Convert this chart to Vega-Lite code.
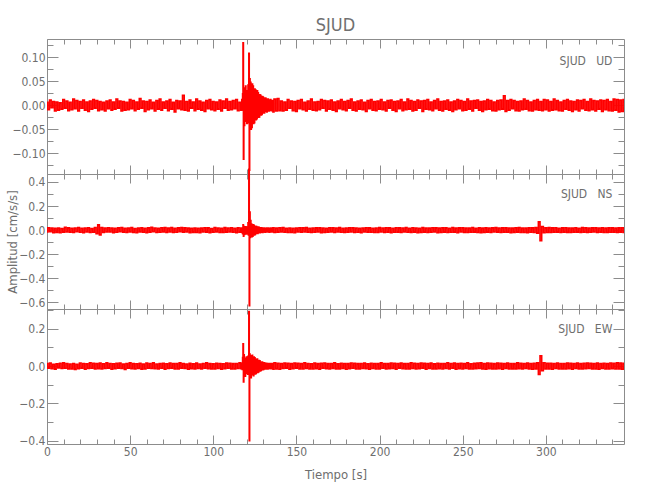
{
"$schema":"https://vega.github.io/schema/vega-lite/v6.json",
"padding":{"left":5,"top":17,"right":10,"bottom":10},
"background":"white",
"title":{"text":"SJUD","fontSize":18,"font":"Liberation Sans Narrow, DejaVu Sans Condensed, sans-serif","color":"#707070","fontWeight":"normal","anchor":"middle","frame":"group","offset":3},
"config":{"view":{"stroke":"#8c8c8c","strokeWidth":1},"axis":{"domain":false,"grid":false,"tickColor":"#8c8c8c","tickWidth":1,"labelColor":"#6e6e6e","labelFont":"Liberation Sans Narrow, DejaVu Sans Condensed, sans-serif","labelFontSize":12,"titleFont":"Liberation Sans Narrow, DejaVu Sans Condensed, sans-serif","titleFontSize":13,"titleColor":"#6e6e6e","titleFontWeight":"normal","labelFlush":false,"labelOverlap":false,"labelBound":false},"concat":{"spacing":0}},
"data":{"values":[
{"t":0,"u":0.006,"n":-0.016,"e":0.013},{"t":1,"u":-0.009,"n":0.02,"e":-0.011},{"t":2,"u":0.011,"n":-0.014,"e":0.016},{"t":3,"u":-0.005,"n":0.018,"e":-0.014},{"t":4,"u":0.008,"n":-0.022,"e":0.009},{"t":5,"u":-0.012,"n":0.015,"e":-0.017},{"t":6,"u":0.007,"n":-0.019,"e":0.012},{"t":7,"u":-0.01,"n":0.017,"e":-0.01},{"t":8,"u":0.005,"n":-0.021,"e":0.015},{"t":9,"u":-0.008,"n":0.014,"e":-0.013},
{"t":10,"u":0.012,"n":-0.018,"e":0.018},{"t":11,"u":-0.006,"n":0.023,"e":-0.012},{"t":12,"u":0.009,"n":-0.015,"e":0.014},{"t":13,"u":-0.011,"n":0.019,"e":-0.016},{"t":14,"u":0.006,"n":-0.017,"e":0.011},{"t":15,"u":-0.009,"n":0.016,"e":-0.015},{"t":16,"u":0.013,"n":-0.02,"e":0.013},{"t":17,"u":-0.007,"n":0.018,"e":-0.018},{"t":18,"u":0.01,"n":-0.014,"e":0.01},{"t":19,"u":-0.012,"n":0.021,"e":-0.014},
{"t":20,"u":0.008,"n":-0.018,"e":0.016},{"t":21,"u":-0.006,"n":0.015,"e":-0.011},{"t":22,"u":0.011,"n":-0.022,"e":0.014},{"t":23,"u":-0.01,"n":0.017,"e":-0.017},{"t":24,"u":0.007,"n":-0.016,"e":0.012},{"t":25,"u":-0.013,"n":0.02,"e":-0.013},{"t":26,"u":0.009,"n":-0.019,"e":0.017},{"t":27,"u":-0.008,"n":0.014,"e":-0.012},{"t":28,"u":0.012,"n":-0.018,"e":0.015},{"t":29,"u":-0.006,"n":0.022,"e":-0.016},
{"t":30,"u":0.01,"n":-0.03,"e":0.013},{"t":31,"u":-0.011,"n":0.045,"e":-0.014},{"t":32,"u":0.008,"n":-0.04,"e":0.016},{"t":33,"u":-0.009,"n":0.022,"e":-0.015},{"t":34,"u":0.006,"n":-0.019,"e":0.012},{"t":35,"u":-0.012,"n":0.018,"e":-0.013},{"t":36,"u":0.009,"n":-0.016,"e":0.018},{"t":37,"u":-0.007,"n":0.02,"e":-0.011},{"t":38,"u":0.011,"n":-0.015,"e":0.014},{"t":39,"u":-0.01,"n":0.017,"e":-0.017},
{"t":40,"u":0.007,"n":-0.021,"e":0.012},{"t":41,"u":-0.008,"n":0.016,"e":-0.014},{"t":42,"u":0.013,"n":-0.018,"e":0.015},{"t":43,"u":-0.006,"n":0.019,"e":-0.012},{"t":44,"u":0.009,"n":-0.014,"e":0.016},{"t":45,"u":-0.012,"n":0.022,"e":-0.013},{"t":46,"u":0.008,"n":-0.017,"e":0.011},{"t":47,"u":-0.01,"n":0.015,"e":-0.018},{"t":48,"u":0.006,"n":-0.02,"e":0.014},{"t":49,"u":-0.009,"n":0.018,"e":-0.012},
{"t":50,"u":0.012,"n":-0.016,"e":0.017},{"t":51,"u":-0.007,"n":0.021,"e":-0.014},{"t":52,"u":0.01,"n":-0.019,"e":0.013},{"t":53,"u":-0.011,"n":0.014,"e":-0.016},{"t":54,"u":0.007,"n":-0.022,"e":0.012},{"t":55,"u":-0.008,"n":0.017,"e":-0.013},{"t":56,"u":0.014,"n":-0.015,"e":0.015},{"t":57,"u":-0.006,"n":0.02,"e":-0.017},{"t":58,"u":0.009,"n":-0.018,"e":0.011},{"t":59,"u":-0.013,"n":0.016,"e":-0.015},
{"t":60,"u":0.008,"n":-0.021,"e":0.016},{"t":61,"u":-0.009,"n":0.019,"e":-0.012},{"t":62,"u":0.011,"n":-0.017,"e":0.014},{"t":63,"u":-0.007,"n":0.023,"e":-0.013},{"t":64,"u":0.006,"n":-0.014,"e":0.017},{"t":65,"u":-0.012,"n":0.018,"e":-0.014},{"t":66,"u":0.01,"n":-0.02,"e":0.011},{"t":67,"u":-0.008,"n":0.015,"e":-0.016},{"t":68,"u":0.013,"n":-0.018,"e":0.013},{"t":69,"u":-0.01,"n":0.02,"e":-0.012},
{"t":70,"u":0.007,"n":-0.016,"e":0.015},{"t":71,"u":-0.006,"n":0.022,"e":-0.017},{"t":72,"u":0.009,"n":-0.019,"e":0.012},{"t":73,"u":-0.011,"n":0.017,"e":-0.013},{"t":74,"u":0.012,"n":-0.015,"e":0.016},{"t":75,"u":-0.008,"n":0.021,"e":-0.011},{"t":76,"u":0.006,"n":-0.02,"e":0.014},{"t":77,"u":-0.014,"n":0.016,"e":-0.015},{"t":78,"u":0.01,"n":-0.018,"e":0.013},{"t":79,"u":-0.007,"n":0.019,"e":-0.016},
{"t":80,"u":0.009,"n":-0.014,"e":0.017},{"t":81,"u":-0.009,"n":0.022,"e":-0.012},{"t":82,"u":0.021,"n":-0.017,"e":0.014},{"t":83,"u":-0.01,"n":0.02,"e":-0.013},{"t":84,"u":0.008,"n":-0.016,"e":0.011},{"t":85,"u":-0.012,"n":0.018,"e":-0.017},{"t":86,"u":0.011,"n":-0.021,"e":0.015},{"t":87,"u":-0.006,"n":0.015,"e":-0.014},{"t":88,"u":0.007,"n":-0.019,"e":0.012},{"t":89,"u":-0.011,"n":0.017,"e":-0.015},
{"t":90,"u":0.013,"n":-0.02,"e":0.016},{"t":91,"u":-0.008,"n":0.016,"e":-0.013},{"t":92,"u":0.009,"n":-0.022,"e":0.011},{"t":93,"u":-0.01,"n":0.018,"e":-0.016},{"t":94,"u":0.006,"n":-0.015,"e":0.014},{"t":95,"u":-0.013,"n":0.02,"e":-0.012},{"t":96,"u":0.01,"n":-0.017,"e":0.017},{"t":97,"u":-0.007,"n":0.019,"e":-0.014},{"t":98,"u":0.012,"n":-0.021,"e":0.013},{"t":99,"u":-0.009,"n":0.014,"e":-0.015},
{"t":100,"u":0.008,"n":-0.018,"e":0.012},{"t":101,"u":-0.011,"n":0.022,"e":-0.016},{"t":102,"u":0.007,"n":-0.016,"e":0.015},{"t":103,"u":-0.008,"n":0.017,"e":-0.013},{"t":104,"u":0.011,"n":-0.02,"e":0.014},{"t":105,"u":-0.012,"n":0.015,"e":-0.017},{"t":106,"u":0.009,"n":-0.019,"e":0.012},{"t":107,"u":-0.006,"n":0.021,"e":-0.014},{"t":108,"u":0.013,"n":-0.017,"e":0.016},{"t":109,"u":-0.01,"n":0.018,"e":-0.012},
{"t":110,"u":0.008,"n":-0.015,"e":0.015},{"t":111,"u":-0.009,"n":0.02,"e":-0.015},{"t":112,"u":0.01,"n":-0.018,"e":0.013},{"t":113,"u":-0.007,"n":0.016,"e":-0.016},{"t":114,"u":0.012,"n":-0.021,"e":0.014},{"t":115,"u":-0.011,"n":0.019,"e":-0.013},{"t":116,"u":0.006,"n":-0.017,"e":0.017},
{"t":117,"u":-0.01,"n":0.018,"e":-0.014},{"t":117.25,"u":0.012,"n":-0.019,"e":0.013},{"t":117.5,"u":-0.009,"n":0.017,"e":-0.018},{"t":117.75,"u":0.024,"n":-0.03,"e":0.045},
{"t":118,"u":0.13,"n":0.045,"e":0.12},{"t":118.25,"u":-0.112,"n":-0.05,"e":-0.085},{"t":118.5,"u":0.028,"n":0.03,"e":0.06},{"t":118.75,"u":-0.042,"n":-0.035,"e":-0.048},
{"t":119,"u":0.036,"n":0.025,"e":0.03},{"t":119.25,"u":-0.025,"n":-0.032,"e":-0.055},{"t":119.5,"u":0.04,"n":0.028,"e":0.042},{"t":119.75,"u":-0.033,"n":-0.022,"e":-0.03},
{"t":120,"u":0.022,"n":0.026,"e":0.048},{"t":120.25,"u":-0.038,"n":-0.032,"e":-0.038},{"t":120.5,"u":0.03,"n":0.02,"e":0.026},{"t":120.75,"u":-0.026,"n":-0.028,"e":-0.044},
{"t":121,"u":0.042,"n":0.06,"e":0.052},{"t":121.25,"u":-0.036,"n":-0.04,"e":-0.04},{"t":121.5,"u":0.108,"n":0.505,"e":0.292},{"t":121.75,"u":-0.135,"n":-0.628,"e":-0.4},
{"t":122,"u":0.055,"n":0.15,"e":0.065},{"t":122.25,"u":-0.042,"n":-0.06,"e":-0.058},{"t":122.5,"u":0.048,"n":0.08,"e":0.044},{"t":122.75,"u":-0.05,"n":-0.045,"e":-0.062},
{"t":123,"u":0.038,"n":0.05,"e":0.055},{"t":123.25,"u":-0.046,"n":-0.055,"e":-0.04},{"t":123.5,"u":0.044,"n":0.035,"e":0.058},{"t":123.75,"u":-0.03,"n":-0.05,"e":-0.046},
{"t":124,"u":0.04,"n":0.045,"e":0.035},{"t":124.25,"u":-0.038,"n":-0.03,"e":-0.052},{"t":124.5,"u":0.026,"n":0.04,"e":0.048},{"t":124.75,"u":-0.036,"n":-0.04,"e":-0.03},
{"t":125,"u":0.034,"n":0.028,"e":0.044},{"t":125.25,"u":-0.024,"n":-0.036,"e":-0.042},{"t":125.5,"u":0.032,"n":0.032,"e":0.028},{"t":125.75,"u":-0.03,"n":-0.025,"e":-0.04},
{"t":126,"u":0.02,"n":0.03,"e":0.036},{"t":126.25,"u":-0.028,"n":-0.028,"e":-0.026},{"t":126.5,"u":0.03,"n":0.022,"e":0.038},{"t":126.75,"u":-0.022,"n":-0.027,"e":-0.034},
{"t":127,"u":0.026,"n":0.025,"e":0.022},{"t":127.25,"u":-0.025,"n":-0.02,"e":-0.032},{"t":127.5,"u":0.018,"n":0.024,"e":0.03},{"t":127.75,"u":-0.024,"n":-0.022,"e":-0.02},
{"t":128,"u":0.022,"n":0.019,"e":0.028},{"t":128.25,"u":-0.016,"n":-0.022,"e":-0.026},{"t":128.5,"u":0.021,"n":0.02,"e":0.018},{"t":128.75,"u":-0.02,"n":-0.017,"e":-0.024},
{"t":129,"u":0.015,"n":0.02,"e":0.022},{"t":129.25,"u":-0.019,"n":-0.018,"e":-0.017},{"t":129.5,"u":0.018,"n":0.016,"e":0.021},{"t":129.75,"u":-0.014,"n":-0.019,"e":-0.019},
{"t":130,"u":0.017,"n":0.017,"e":0.015},{"t":130.25,"u":-0.016,"n":-0.016,"e":-0.018},{"t":130.5,"u":0.012,"n":0.018,"e":0.017},{"t":130.75,"u":-0.016,"n":-0.016,"e":-0.013},
{"t":131,"u":0.015,"n":0.015,"e":0.016},{"t":131.25,"u":-0.011,"n":-0.018,"e":-0.015},{"t":131.5,"u":0.015,"n":0.016,"e":0.012},{"t":131.75,"u":-0.013,"n":-0.014,"e":-0.016},
{"t":132,"u":0.01,"n":0.017,"e":0.015},{"t":132.25,"u":-0.014,"n":-0.015,"e":-0.012},{"t":132.5,"u":0.013,"n":0.016,"e":0.014},{"t":132.75,"u":-0.009,"n":-0.014,"e":-0.015},
{"t":133,"u":0.013,"n":0.017,"e":0.012},{"t":133.25,"u":-0.012,"n":-0.016,"e":-0.014},{"t":133.5,"u":0.008,"n":0.014,"e":0.013},{"t":133.75,"u":-0.012,"n":-0.017,"e":-0.012},
{"t":134,"u":0.011,"n":0.015,"e":0.014},{"t":134.25,"u":-0.008,"n":-0.014,"e":-0.013},{"t":134.5,"u":0.012,"n":0.017,"e":0.012},{"t":134.75,"u":-0.01,"n":-0.015,"e":-0.014},
{"t":135,"u":0.007,"n":0.016,"e":0.013},{"t":135.25,"u":-0.011,"n":-0.014,"e":-0.012},{"t":135.5,"u":0.01,"n":0.017,"e":0.014},{"t":135.75,"u":-0.007,"n":-0.015,"e":-0.012},
{"t":136,"u":-0.014,"n":0.019,"e":-0.017},{"t":137,"u":0.013,"n":-0.02,"e":0.018},{"t":138,"u":-0.012,"n":0.018,"e":-0.016},{"t":139,"u":0.014,"n":-0.017,"e":0.015},{"t":140,"u":-0.011,"n":0.02,"e":-0.017},{"t":141,"u":0.009,"n":-0.016,"e":0.014},{"t":142,"u":-0.012,"n":0.021,"e":-0.013},{"t":143,"u":0.007,"n":-0.018,"e":0.016},{"t":144,"u":-0.01,"n":0.015,"e":-0.012},{"t":145,"u":0.012,"n":-0.02,"e":0.015},
{"t":146,"u":-0.006,"n":0.017,"e":-0.017},{"t":147,"u":0.009,"n":-0.019,"e":0.013},{"t":148,"u":-0.011,"n":0.016,"e":-0.014},{"t":149,"u":0.008,"n":-0.021,"e":0.016},{"t":150,"u":-0.013,"n":0.018,"e":-0.012},{"t":151,"u":0.01,"n":-0.015,"e":0.015},{"t":152,"u":-0.007,"n":0.02,"e":-0.016},{"t":153,"u":0.012,"n":-0.017,"e":0.013},{"t":154,"u":-0.009,"n":0.019,"e":-0.015},{"t":155,"u":0.006,"n":-0.016,"e":0.017},
{"t":156,"u":-0.012,"n":0.021,"e":-0.013},{"t":157,"u":0.009,"n":-0.018,"e":0.014},{"t":158,"u":-0.008,"n":0.015,"e":-0.016},{"t":159,"u":0.013,"n":-0.02,"e":0.012},{"t":160,"u":-0.01,"n":0.018,"e":-0.015},{"t":161,"u":0.007,"n":-0.017,"e":0.016},{"t":162,"u":-0.011,"n":0.02,"e":-0.014},{"t":163,"u":0.008,"n":-0.016,"e":0.013},{"t":164,"u":-0.009,"n":0.019,"e":-0.017},{"t":165,"u":0.012,"n":-0.021,"e":0.015},
{"t":166,"u":-0.006,"n":0.017,"e":-0.012},{"t":167,"u":0.01,"n":-0.019,"e":0.016},{"t":168,"u":-0.012,"n":0.016,"e":-0.014},{"t":169,"u":0.009,"n":-0.018,"e":0.013},{"t":170,"u":-0.008,"n":0.02,"e":-0.016},{"t":171,"u":0.011,"n":-0.015,"e":0.014},{"t":172,"u":-0.01,"n":0.019,"e":-0.013},{"t":173,"u":0.007,"n":-0.02,"e":0.017},{"t":174,"u":-0.013,"n":0.017,"e":-0.015},{"t":175,"u":0.009,"n":-0.016,"e":0.012},
{"t":176,"u":-0.007,"n":0.021,"e":-0.016},{"t":177,"u":0.012,"n":-0.018,"e":0.015},{"t":178,"u":-0.009,"n":0.015,"e":-0.013},{"t":179,"u":0.008,"n":-0.019,"e":0.014},{"t":180,"u":-0.011,"n":0.018,"e":-0.017},{"t":181,"u":0.01,"n":-0.017,"e":0.013},{"t":182,"u":-0.006,"n":0.02,"e":-0.014},{"t":183,"u":0.013,"n":-0.016,"e":0.016},{"t":184,"u":-0.01,"n":0.019,"e":-0.012},{"t":185,"u":0.007,"n":-0.02,"e":0.015},
{"t":186,"u":-0.012,"n":0.017,"e":-0.016},{"t":187,"u":0.009,"n":-0.018,"e":0.013},{"t":188,"u":-0.008,"n":0.016,"e":-0.015},{"t":189,"u":0.011,"n":-0.021,"e":0.014},{"t":190,"u":-0.009,"n":0.018,"e":-0.013},{"t":191,"u":0.006,"n":-0.015,"e":0.016},{"t":192,"u":-0.013,"n":0.02,"e":-0.014},{"t":193,"u":0.01,"n":-0.017,"e":0.012},{"t":194,"u":-0.007,"n":0.019,"e":-0.017},{"t":195,"u":0.012,"n":-0.018,"e":0.015},
{"t":196,"u":-0.01,"n":0.016,"e":-0.013},{"t":197,"u":0.008,"n":-0.02,"e":0.014},{"t":198,"u":-0.011,"n":0.017,"e":-0.016},{"t":199,"u":0.009,"n":-0.019,"e":0.013},{"t":200,"u":-0.008,"n":0.021,"e":-0.015},{"t":201,"u":0.012,"n":-0.016,"e":0.017},{"t":202,"u":-0.009,"n":0.018,"e":-0.012},{"t":203,"u":0.007,"n":-0.019,"e":0.014},{"t":204,"u":-0.012,"n":0.02,"e":-0.016},{"t":205,"u":0.01,"n":-0.017,"e":0.013},
{"t":206,"u":-0.006,"n":0.019,"e":-0.014},{"t":207,"u":0.011,"n":-0.021,"e":0.016},{"t":208,"u":-0.01,"n":0.016,"e":-0.013},{"t":209,"u":0.008,"n":-0.018,"e":0.015},{"t":210,"u":-0.013,"n":0.02,"e":-0.017},{"t":211,"u":0.009,"n":-0.017,"e":0.014},{"t":212,"u":-0.007,"n":0.019,"e":-0.012},{"t":213,"u":0.012,"n":-0.02,"e":0.016},{"t":214,"u":-0.011,"n":0.017,"e":-0.014},{"t":215,"u":0.007,"n":-0.016,"e":0.013},
{"t":216,"u":-0.009,"n":0.021,"e":-0.016},{"t":217,"u":0.013,"n":-0.018,"e":0.014},{"t":218,"u":-0.008,"n":0.015,"e":-0.015},{"t":219,"u":0.01,"n":-0.019,"e":0.017},{"t":220,"u":-0.012,"n":0.02,"e":-0.013},{"t":221,"u":0.008,"n":-0.017,"e":0.015},{"t":222,"u":-0.01,"n":0.018,"e":-0.016},{"t":223,"u":0.011,"n":-0.021,"e":0.013},{"t":224,"u":-0.006,"n":0.016,"e":-0.014},{"t":225,"u":0.009,"n":-0.019,"e":0.016},
{"t":226,"u":-0.013,"n":0.021,"e":-0.012},{"t":227,"u":0.01,"n":-0.017,"e":0.015},{"t":228,"u":-0.008,"n":0.018,"e":-0.017},{"t":229,"u":0.012,"n":-0.02,"e":0.014},{"t":230,"u":-0.009,"n":0.017,"e":-0.013},{"t":231,"u":0.007,"n":-0.018,"e":0.016},{"t":232,"u":-0.011,"n":0.02,"e":-0.015},{"t":233,"u":0.01,"n":-0.016,"e":0.012},{"t":234,"u":-0.007,"n":0.019,"e":-0.016},{"t":235,"u":0.013,"n":-0.021,"e":0.015},
{"t":236,"u":-0.01,"n":0.017,"e":-0.014},{"t":237,"u":0.008,"n":-0.019,"e":0.013},{"t":238,"u":-0.012,"n":0.02,"e":-0.016},{"t":239,"u":0.009,"n":-0.017,"e":0.014},{"t":240,"u":-0.008,"n":0.019,"e":-0.013},{"t":241,"u":0.011,"n":-0.02,"e":0.017},{"t":242,"u":-0.01,"n":0.016,"e":-0.015},{"t":243,"u":0.007,"n":-0.018,"e":0.014},{"t":244,"u":-0.013,"n":0.021,"e":-0.012},{"t":245,"u":0.009,"n":-0.017,"e":0.016},
{"t":246,"u":-0.009,"n":0.018,"e":-0.017},{"t":247,"u":0.012,"n":-0.021,"e":0.013},{"t":248,"u":-0.007,"n":0.019,"e":-0.014},{"t":249,"u":0.01,"n":-0.016,"e":0.015},{"t":250,"u":-0.011,"n":0.02,"e":-0.016},{"t":251,"u":0.008,"n":-0.019,"e":0.014},{"t":252,"u":-0.01,"n":0.017,"e":-0.013},{"t":253,"u":0.013,"n":-0.02,"e":0.017},{"t":254,"u":-0.008,"n":0.018,"e":-0.015},{"t":255,"u":0.009,"n":-0.017,"e":0.012},
{"t":256,"u":-0.012,"n":0.021,"e":-0.016},{"t":257,"u":0.01,"n":-0.018,"e":0.015},{"t":258,"u":-0.006,"n":0.016,"e":-0.014},{"t":259,"u":0.011,"n":-0.02,"e":0.016},{"t":260,"u":-0.01,"n":0.019,"e":-0.013},{"t":261,"u":0.008,"n":-0.021,"e":0.018},{"t":262,"u":-0.013,"n":0.017,"e":-0.015},{"t":263,"u":0.009,"n":-0.019,"e":0.014},{"t":264,"u":-0.009,"n":0.02,"e":-0.017},{"t":265,"u":0.012,"n":-0.017,"e":0.016},
{"t":266,"u":-0.008,"n":0.018,"e":-0.014},{"t":267,"u":0.01,"n":-0.02,"e":0.015},{"t":268,"u":-0.011,"n":0.019,"e":-0.016},{"t":269,"u":0.007,"n":-0.016,"e":0.013},{"t":270,"u":-0.012,"n":0.021,"e":-0.015},{"t":271,"u":0.01,"n":-0.018,"e":0.016},{"t":272,"u":-0.009,"n":0.017,"e":-0.014},{"t":273,"u":0.011,"n":-0.02,"e":0.015},{"t":274,"u":-0.008,"n":0.019,"e":-0.017},{"t":275,"u":0.02,"n":-0.017,"e":0.014},
{"t":276,"u":-0.013,"n":0.02,"e":-0.013},{"t":277,"u":0.01,"n":-0.018,"e":0.016},{"t":278,"u":-0.01,"n":0.017,"e":-0.015},{"t":279,"u":0.012,"n":-0.021,"e":0.014},{"t":280,"u":-0.007,"n":0.018,"e":-0.016},{"t":281,"u":0.01,"n":-0.019,"e":0.013},{"t":282,"u":-0.011,"n":0.02,"e":-0.015},{"t":283,"u":0.008,"n":-0.017,"e":0.017},{"t":284,"u":-0.012,"n":0.021,"e":-0.014},{"t":285,"u":0.009,"n":-0.02,"e":0.015},
{"t":286,"u":-0.009,"n":0.018,"e":-0.016},{"t":287,"u":0.013,"n":-0.019,"e":0.014},{"t":288,"u":-0.008,"n":0.017,"e":-0.013},{"t":289,"u":0.01,"n":-0.021,"e":0.016},{"t":290,"u":-0.011,"n":0.02,"e":-0.015},{"t":291,"u":0.007,"n":-0.018,"e":0.014},{"t":292,"u":-0.012,"n":0.019,"e":-0.017},{"t":293,"u":0.01,"n":-0.02,"e":0.015},{"t":294,"u":-0.009,"n":0.021,"e":-0.016},{"t":295,"u":0.012,"n":-0.025,"e":0.018},
{"t":296,"u":-0.01,"n":0.07,"e":-0.045},{"t":297,"u":0.008,"n":-0.088,"e":0.055},{"t":298,"u":-0.011,"n":0.03,"e":-0.025},{"t":299,"u":0.012,"n":-0.022,"e":0.018},{"t":300,"u":-0.009,"n":0.019,"e":-0.016},{"t":301,"u":0.011,"n":-0.02,"e":0.015},{"t":302,"u":-0.012,"n":0.021,"e":-0.016},{"t":303,"u":0.008,"n":-0.02,"e":0.015},{"t":304,"u":-0.01,"n":0.019,"e":-0.017},{"t":305,"u":0.013,"n":-0.017,"e":0.014},
{"t":306,"u":-0.009,"n":0.02,"e":-0.013},{"t":307,"u":0.01,"n":-0.018,"e":0.016},{"t":308,"u":-0.011,"n":0.016,"e":-0.015},{"t":309,"u":0.007,"n":-0.02,"e":0.014},{"t":310,"u":-0.012,"n":0.019,"e":-0.016},{"t":311,"u":0.01,"n":-0.017,"e":0.013},{"t":312,"u":-0.008,"n":0.02,"e":-0.015},{"t":313,"u":0.012,"n":-0.019,"e":0.016},{"t":314,"u":-0.01,"n":0.017,"e":-0.014},{"t":315,"u":0.009,"n":-0.02,"e":0.015},
{"t":316,"u":-0.013,"n":0.018,"e":-0.017},{"t":317,"u":0.008,"n":-0.017,"e":0.014},{"t":318,"u":-0.009,"n":0.02,"e":-0.013},{"t":319,"u":0.011,"n":-0.018,"e":0.016},{"t":320,"u":-0.012,"n":0.016,"e":-0.015},{"t":321,"u":0.01,"n":-0.019,"e":0.013},{"t":322,"u":-0.007,"n":0.021,"e":-0.016},{"t":323,"u":0.012,"n":-0.017,"e":0.015},{"t":324,"u":-0.01,"n":0.019,"e":-0.014},{"t":325,"u":0.008,"n":-0.02,"e":0.016},
{"t":326,"u":-0.011,"n":0.017,"e":-0.013},{"t":327,"u":0.013,"n":-0.018,"e":0.015},{"t":328,"u":-0.009,"n":0.02,"e":-0.016},{"t":329,"u":0.01,"n":-0.016,"e":0.014},{"t":330,"u":-0.012,"n":0.019,"e":-0.015},{"t":331,"u":0.009,"n":-0.02,"e":0.016},{"t":332,"u":-0.008,"n":0.018,"e":-0.017},{"t":333,"u":0.011,"n":-0.017,"e":0.014},{"t":334,"u":-0.013,"n":0.02,"e":-0.013},{"t":335,"u":0.01,"n":-0.019,"e":0.015},
{"t":336,"u":-0.009,"n":0.017,"e":-0.016},{"t":337,"u":0.012,"n":-0.02,"e":0.014},{"t":338,"u":-0.011,"n":0.019,"e":-0.015},{"t":339,"u":0.008,"n":-0.018,"e":0.016},{"t":340,"u":-0.012,"n":0.02,"e":-0.014},{"t":341,"u":0.013,"n":-0.017,"e":0.015},{"t":342,"u":-0.01,"n":0.018,"e":-0.016},{"t":343,"u":0.012,"n":-0.02,"e":0.017},{"t":344,"u":-0.014,"n":0.019,"e":-0.015},{"t":345,"u":0.011,"n":-0.018,"e":0.016},
{"t":346,"u":-0.013,"n":0.02,"e":-0.017},{"t":347,"u":0.012,"n":-0.019,"e":0.015}
]},
"vconcat":[
{"width":577,"height":135,
 "layer":[
  {"mark":{"type":"line","color":"#ff0000","strokeWidth":1.6,"interpolate":"step"},
   "encoding":{
    "x":{"field":"t","type":"quantitative","scale":{"domain":[0,347],"nice":false,"zero":false},
         "axis":{"orient":"bottom","values":[0,10,20,30,40,50,60,70,80,90,100,110,120,130,140,150,160,170,180,190,200,210,220,230,240,250,260,270,280,290,300,310,320,330,340],"labels":false,"title":null,"tickSize":{"condition":{"test":"datum.value % 50 === 0","value":-9},"value":-5}}},
    "y":{"field":"u","type":"quantitative","scale":{"domain":[-0.143,0.138],"nice":false,"zero":false},
         "axis":{"orient":"left","values":[-0.125,-0.1,-0.075,-0.05,-0.025,0,0.025,0.05,0.075,0.1,0.125],"format":".2f","labelExpr":"abs(datum.value/0.05 - round(datum.value/0.05)) < 0.001 ? datum.label : ''","labelPadding":13,"tickSize":{"condition":{"test":"abs(datum.value/0.05 - round(datum.value/0.05)) < 0.001","value":-11},"value":-6},"title":null,"minExtent":26,"maxExtent":26}}}},
  {"mark":{"type":"line","strokeOpacity":0},
   "encoding":{
    "x":{"field":"t","type":"quantitative","axis":{"orient":"top","values":[0,10,20,30,40,50,60,70,80,90,100,110,120,130,140,150,160,170,180,190,200,210,220,230,240,250,260,270,280,290,300,310,320,330,340],"labels":false,"title":null,"tickSize":{"condition":{"test":"datum.value % 50 === 0","value":-9},"value":-5}}},
    "y":{"field":"u","type":"quantitative","axis":{"orient":"right","values":[-0.125,-0.1,-0.075,-0.05,-0.025,0,0.025,0.05,0.075,0.1,0.125],"labels":false,"title":null,"tickSize":{"condition":{"test":"abs(datum.value/0.05 - round(datum.value/0.05)) < 0.001","value":-11},"value":-6}}}}},
  {"data":{"values":[{"lab":"SJUD\u00a0\u00a0\u00a0UD"}]},
   "mark":{"type":"text","align":"right","baseline":"middle","font":"Liberation Sans Narrow, DejaVu Sans Condensed, sans-serif","fontSize":12,"color":"#6e6e6e"},
   "encoding":{"x":{"datum":340,"type":"quantitative","axis":null},"y":{"datum":0.092,"type":"quantitative","axis":null},"text":{"field":"lab"}}}
 ],
 "resolve":{"axis":{"x":"independent","y":"independent"}}
},
{"width":577,"height":135,
 "layer":[
  {"mark":{"type":"line","color":"#ff0000","strokeWidth":1.6,"interpolate":"step"},
   "encoding":{
    "x":{"field":"t","type":"quantitative","scale":{"domain":[0,347],"nice":false,"zero":false},
         "axis":{"orient":"bottom","values":[0,10,20,30,40,50,60,70,80,90,100,110,120,130,140,150,160,170,180,190,200,210,220,230,240,250,260,270,280,290,300,310,320,330,340],"labels":false,"title":null,"tickSize":{"condition":{"test":"datum.value % 50 === 0","value":-9},"value":-5}}},
    "y":{"field":"n","type":"quantitative","scale":{"domain":[-0.655,0.466],"nice":false,"zero":false},
         "axis":{"orient":"left","values":[-0.6,-0.5,-0.4,-0.3,-0.2,-0.1,0,0.1,0.2,0.3,0.4],"format":".1f","labelExpr":"abs(datum.value/0.2 - round(datum.value/0.2)) < 0.001 ? datum.label : ''","labelPadding":13,"tickSize":{"condition":{"test":"abs(datum.value/0.2 - round(datum.value/0.2)) < 0.001","value":-11},"value":-6},"title":"Amplitud [cm/s/s]","titlePadding":2,"minExtent":26,"maxExtent":26}}}},
  {"mark":{"type":"line","strokeOpacity":0},
   "encoding":{
    "x":{"field":"t","type":"quantitative","axis":{"orient":"top","values":[0,10,20,30,40,50,60,70,80,90,100,110,120,130,140,150,160,170,180,190,200,210,220,230,240,250,260,270,280,290,300,310,320,330,340],"labels":false,"title":null,"tickSize":{"condition":{"test":"datum.value % 50 === 0","value":-9},"value":-5}}},
    "y":{"field":"n","type":"quantitative","axis":{"orient":"right","values":[-0.6,-0.5,-0.4,-0.3,-0.2,-0.1,0,0.1,0.2,0.3,0.4],"labels":false,"title":null,"tickSize":{"condition":{"test":"abs(datum.value/0.2 - round(datum.value/0.2)) < 0.001","value":-11},"value":-6}}}}},
  {"data":{"values":[{"lab":"SJUD\u00a0\u00a0\u00a0NS"}]},
   "mark":{"type":"text","align":"right","baseline":"middle","font":"Liberation Sans Narrow, DejaVu Sans Condensed, sans-serif","fontSize":12,"color":"#6e6e6e"},
   "encoding":{"x":{"datum":340,"type":"quantitative","axis":null},"y":{"datum":0.3,"type":"quantitative","axis":null},"text":{"field":"lab"}}}
 ],
 "resolve":{"axis":{"x":"independent","y":"independent"}}
},
{"width":577,"height":135,
 "layer":[
  {"mark":{"type":"line","color":"#ff0000","strokeWidth":1.6,"interpolate":"step"},
   "encoding":{
    "x":{"field":"t","type":"quantitative","scale":{"domain":[0,347],"nice":false,"zero":false},
         "axis":{"orient":"bottom","values":[0,10,20,30,40,50,60,70,80,90,100,110,120,130,140,150,160,170,180,190,200,210,220,230,240,250,260,270,280,290,300,310,320,330,340],"labelExpr":"datum.value % 50 === 0 ? datum.label : ''","labelPadding":11,"title":"Tiempo [s]","titlePadding":7,"tickSize":{"condition":{"test":"datum.value % 50 === 0","value":-9},"value":-5}}},
    "y":{"field":"e","type":"quantitative","scale":{"domain":[-0.418,0.306],"nice":false,"zero":false},
         "axis":{"orient":"left","values":[-0.4,-0.3,-0.2,-0.1,0,0.1,0.2,0.3],"format":".1f","labelExpr":"abs(datum.value/0.2 - round(datum.value/0.2)) < 0.001 ? datum.label : ''","labelPadding":13,"tickSize":{"condition":{"test":"abs(datum.value/0.2 - round(datum.value/0.2)) < 0.001","value":-11},"value":-6},"title":null,"minExtent":26,"maxExtent":26}}}},
  {"mark":{"type":"line","strokeOpacity":0},
   "encoding":{
    "x":{"field":"t","type":"quantitative","axis":{"orient":"top","values":[0,10,20,30,40,50,60,70,80,90,100,110,120,130,140,150,160,170,180,190,200,210,220,230,240,250,260,270,280,290,300,310,320,330,340],"labels":false,"title":null,"tickSize":{"condition":{"test":"datum.value % 50 === 0","value":-9},"value":-5}}},
    "y":{"field":"e","type":"quantitative","axis":{"orient":"right","values":[-0.4,-0.3,-0.2,-0.1,0,0.1,0.2,0.3],"labels":false,"title":null,"tickSize":{"condition":{"test":"abs(datum.value/0.2 - round(datum.value/0.2)) < 0.001","value":-11},"value":-6}}}}},
  {"data":{"values":[{"lab":"SJUD\u00a0\u00a0\u00a0EW"}]},
   "mark":{"type":"text","align":"right","baseline":"middle","font":"Liberation Sans Narrow, DejaVu Sans Condensed, sans-serif","fontSize":12,"color":"#6e6e6e"},
   "encoding":{"x":{"datum":340,"type":"quantitative","axis":null},"y":{"datum":0.2,"type":"quantitative","axis":null},"text":{"field":"lab"}}}
 ],
 "resolve":{"axis":{"x":"independent","y":"independent"}}
}
],
"bounds":"flush",
"spacing":0
}
